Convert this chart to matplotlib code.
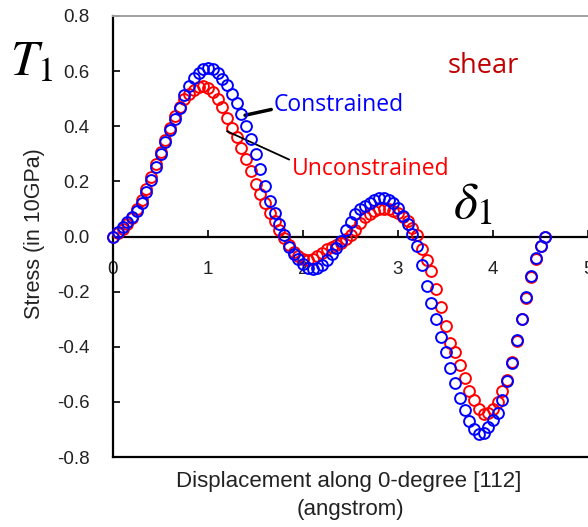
import matplotlib
matplotlib.use("Agg")
import matplotlib.pyplot as plt

plt.rcParams['font.family'] = ['Liberation Sans', 'DejaVu Sans']
plt.rcParams['mathtext.fontset'] = 'stix'

# displacement along 0-degree [112] (angstrom)
DISP = [0.00, 0.05, 0.10, 0.15, 0.20, 0.25, 0.30, 0.35, 0.40, 0.45,
        0.50, 0.55, 0.60, 0.65, 0.70, 0.75, 0.80, 0.85, 0.90, 0.95,
        1.00, 1.05, 1.10, 1.15, 1.20, 1.25, 1.30, 1.35, 1.40, 1.45,
        1.50, 1.55, 1.60, 1.65, 1.70, 1.75, 1.80, 1.85, 1.90, 1.95,
        2.00, 2.05, 2.10, 2.15, 2.20, 2.25, 2.30, 2.35, 2.40, 2.45,
        2.50, 2.55, 2.60, 2.65, 2.70, 2.75, 2.80, 2.85, 2.90, 2.95,
        3.00, 3.05, 3.10, 3.15, 3.20, 3.25, 3.30, 3.35, 3.40, 3.45,
        3.50, 3.55, 3.60, 3.65, 3.70, 3.75, 3.80, 3.85, 3.90, 3.95,
        4.00, 4.05, 4.10, 4.15, 4.20, 4.25, 4.30, 4.35, 4.40, 4.45,
        4.50, 4.55]

# stress (in 10GPa), constrained
CONSTRAINED = [0.000, 0.018, 0.036, 0.053, 0.071, 0.092, 0.120, 0.160, 0.205, 0.252,
               0.298, 0.343, 0.388, 0.428, 0.468, 0.512, 0.545, 0.575, 0.595, 0.608,
               0.612, 0.608, 0.595, 0.573, 0.548, 0.518, 0.483, 0.445, 0.400, 0.352,
               0.300, 0.245, 0.185, 0.128, 0.085, 0.045, 0.005, -0.038, -0.062, -0.082,
               -0.100, -0.113, -0.118, -0.115, -0.103, -0.085, -0.065, -0.042, -0.015, 0.022,
               0.052, 0.080, 0.098, 0.112, 0.122, 0.132, 0.138, 0.138, 0.133, 0.122,
               0.105, 0.075, 0.045, 0.010, -0.035, -0.105, -0.180, -0.240, -0.300, -0.365,
               -0.420, -0.477, -0.530, -0.585, -0.630, -0.670, -0.700, -0.715, -0.712, -0.692,
               -0.665, -0.640, -0.593, -0.525, -0.458, -0.375, -0.300, -0.220, -0.145, -0.078,
               -0.035, 0.000]

# stress (in 10GPa), unconstrained
UNCONSTRAINED = [0.000, 0.012, 0.028, 0.045, 0.068, 0.098, 0.132, 0.172, 0.215, 0.262,
                 0.305, 0.350, 0.395, 0.438, 0.470, 0.498, 0.518, 0.532, 0.542, 0.545,
                 0.540, 0.525, 0.498, 0.470, 0.430, 0.395, 0.362, 0.322, 0.280, 0.238,
                 0.190, 0.155, 0.123, 0.085, 0.055, 0.025, -0.005, -0.032, -0.055, -0.070,
                 -0.080, -0.085, -0.082, -0.072, -0.060, -0.047, -0.038, -0.030, -0.022, -0.010,
                 0.005, 0.025, 0.050, 0.070, 0.082, 0.092, 0.098, 0.100, 0.098, 0.092,
                 0.085, 0.072, 0.055, 0.030, 0.005, -0.045, -0.085, -0.125, -0.190, -0.255,
                 -0.325, -0.385, -0.420, -0.465, -0.515, -0.560, -0.595, -0.625, -0.645, -0.640,
                 -0.625, -0.600, -0.560, -0.520, -0.455, -0.378, -0.300, -0.222, -0.148, -0.080,
                 -0.036, 0.000]

X_TICKS = [0, 1, 2, 3, 4, 5]
Y_TICKS = [0.8, 0.6, 0.4, 0.2, 0.0, -0.2, -0.4, -0.6, -0.8]

FIG = plt.figure(figsize=(5.88, 5.27), dpi=100)
AX = FIG.add_axes([113 / 588, 70 / 527, 1 - 113 / 588, 441 / 527])

AX.plot(DISP, UNCONSTRAINED, 'o', ms=7.8, mfc='none', mec='#ff0000', mew=1.4, zorder=3, clip_on=False)
AX.plot(DISP, CONSTRAINED, 'o', ms=7.8, mfc='none', mec='#0000ff', mew=1.4, zorder=4, clip_on=False)

AX.set_xlim(0, 5.0)
AX.set_ylim(-0.8, 0.8)

# x axis sits on the zero line, the frame bottom is a plain line
AX.spines['bottom'].set_position(('data', 0))
AX.spines['bottom'].set_linewidth(1.6)
AX.spines['left'].set_linewidth(1.6)
AX.spines['right'].set_visible(False)
AX.spines['top'].set_color('#a0a0a0')
AX.spines['top'].set_linewidth(1.4)
AX.axhline(-0.8, color='black', lw=1.6, clip_on=False)

AX.set_xticks(X_TICKS)
AX.set_yticks(Y_TICKS)
AX.set_yticklabels(['%.1f' % v for v in Y_TICKS])
AX.tick_params(axis='x', direction='in', length=5, width=1.2, pad=18, labelsize=13.5, labelcolor='#222222')
AX.tick_params(axis='y', direction='in', length=5, width=1.2, pad=17, labelsize=13.5, labelcolor='#222222')

FIG.text(35 / 588, 1 - 234 / 527, 'Stress (in 10GPa)', rotation=90, ha='center', va='center',
         fontsize=15.5, color='#222222')
FIG.text(349 / 588, 1 - 481 / 527, 'Displacement along 0-degree [112]', ha='center', va='center',
         fontsize=16, color='#222222')
FIG.text(350 / 588, 1 - 510 / 527, '(angstrom)', ha='center', va='center',
         fontsize=16, color='#222222')

FIG.text(10 / 588, 1 - 62 / 527, r'$T_1$', ha='left', va='center', fontsize=36, color='black')
AX.text(3.895, 0.618, 'shear', ha='center', va='center', fontsize=19.5, color='#c00000',
        family=['Open Sans', 'DejaVu Sans'])
AX.text(3.79, 0.115, r'$\delta_1$', ha='center', va='center', fontsize=37, color='black')

AX.annotate('Constrained', xy=(1.39, 0.44), xytext=(1.695, 0.476), ha='left', va='center',
            fontsize=16.5, color='#0000ff', family=['Open Sans', 'DejaVu Sans'],
            arrowprops=dict(arrowstyle='-', lw=2.5, color='black', relpos=(0, 0.35),
                            shrinkA=0, shrinkB=0))
AX.annotate('Unconstrained', xy=(1.20, 0.382), xytext=(1.884, 0.244), ha='left', va='center',
            fontsize=16.5, color='#ff0000', family=['Open Sans', 'DejaVu Sans'],
            arrowprops=dict(arrowstyle='-', lw=1.3, color='black', relpos=(0, 0.85),
                            shrinkA=0, shrinkB=0))

FIG.savefig('out.png', dpi=100)
